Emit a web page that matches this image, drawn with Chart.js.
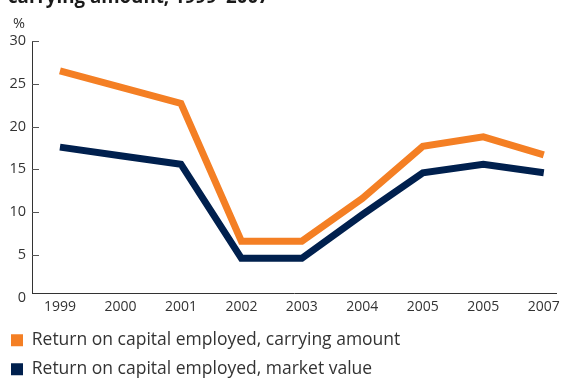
<!DOCTYPE html>
<html>
<head>
<meta charset="utf-8">
<script src="https://cdn.jsdelivr.net/npm/chart.js@4"></script>
<style>
  html, body { margin: 0; padding: 0; background: #fff; overflow: hidden; }
  #wrap { position: relative; width: 566px; height: 378px; }
  #heading { position: absolute; left: 8px; top: -17px; font: bold 18.7px "Open Sans", sans-serif; color: #1a1a1a; white-space: nowrap; }
  #unit { position: absolute; left: 13px; top: 13px; font: 14.5px "Open Sans", sans-serif; color: #333; }
  canvas { position: absolute; left: 0; top: 0; }
</style>
</head>
<body>
<div id="wrap">
  <canvas id="c" width="566" height="378"></canvas>
  <div id="heading">carrying amount, 1999–2007</div>
  <div id="unit">%</div>
</div>
<script>
const years = ['1999', '2000', '2001', '2002', '2003', '2004', '2005', '2005', '2007'];
const carryingAmount = [26.5, 24.6, 22.7, 6.6, 6.6, 11.6, 17.7, 18.8, 16.7];
const marketValue = [17.6, 16.6, 15.6, 4.6, 4.6, 9.7, 14.6, 15.6, 14.6];
const yTicks = [0, 5, 10, 15, 20, 25, 30];
const seriesNames = ['Return on capital employed, carrying amount', 'Return on capital employed, market value'];

const ORANGE = '#F47F24';
const NAVY = '#00204E';
const FONT = '"Open Sans", sans-serif';

const innerTicks = {
  id: 'innerTicks',
  beforeDatasetsDraw(chart) {
    const y = chart.scales.y;
    const ctx = chart.ctx;
    ctx.save();
    ctx.strokeStyle = '#555';
    ctx.lineWidth = 1;
    y.ticks.forEach(t => {
      if (t.value <= y.min) return;
      const py = Math.round(y.getPixelForValue(t.value)) + 0.5;
      ctx.beginPath();
      ctx.moveTo(y.right, py);
      ctx.lineTo(y.right + 7, py);
      ctx.stroke();
    });
    ctx.restore();
  }
};

new Chart(document.getElementById('c'), {
  type: 'line',
  data: {
    datasets: [
      {
        label: seriesNames[0],
        data: carryingAmount.map((v, i) => ({ x: i, y: v })),
        borderColor: ORANGE,
        backgroundColor: ORANGE,
        borderWidth: 7,
        pointRadius: 0,
        tension: 0,
        borderJoinStyle: 'miter'
      },
      {
        label: seriesNames[1],
        data: marketValue.map((v, i) => ({ x: i, y: v })),
        borderColor: NAVY,
        backgroundColor: NAVY,
        borderWidth: 7,
        pointRadius: 0,
        tension: 0,
        borderJoinStyle: 'miter'
      }
    ]
  },
  options: {
    responsive: false,
    animation: false,
    devicePixelRatio: 1,
    layout: { padding: { top: 41, left: -0.5, right: 8, bottom: -10 } },
    plugins: {
      title: { display: false },
      tooltip: { enabled: false },
      legend: {
        position: 'bottom',
        align: 'start',
        labels: {
          boxWidth: 12,
          boxHeight: 12,
          padding: 11.5,
          color: '#333',
          font: { family: FONT, size: 17.5 },
          generateLabels(chart) {
            return chart.data.datasets.map((ds, i) => ({
              text: ds.label,
              fillStyle: ds.borderColor,
              strokeStyle: ds.borderColor,
              lineWidth: 0,
              hidden: false,
              datasetIndex: i,
              fontColor: '#333'
            }));
          }
        }
      }
    },
    scales: {
      x: {
        type: 'linear',
        min: -0.462,
        max: 8.215,
        afterBuildTicks(scale) { scale.ticks = years.map((_, i) => ({ value: i })); },
        afterFit(scale) { scale.height = 27; },
        ticks: {
          autoSkip: false,
          maxRotation: 0,
          padding: 6,
          color: '#333',
          font: { family: FONT, size: 14 },
          callback: (v) => years[v]
        },
        grid: { display: false, drawTicks: false },
        border: { display: true, color: '#333', width: 1 }
      },
      y: {
        min: 0.55,
        max: 30,
        afterBuildTicks(scale) { scale.ticks = yTicks.map(v => ({ value: v })); },
        afterFit(scale) { scale.width = 32.5; },
        ticks: {
          padding: 6,
          color: '#333',
          font: { family: FONT, size: 14.5 }
        },
        grid: { display: false, drawTicks: false },
        border: { display: true, color: '#333', width: 1 }
      }
    }
  },
  plugins: [innerTicks]
});
</script>
</body>
</html>
